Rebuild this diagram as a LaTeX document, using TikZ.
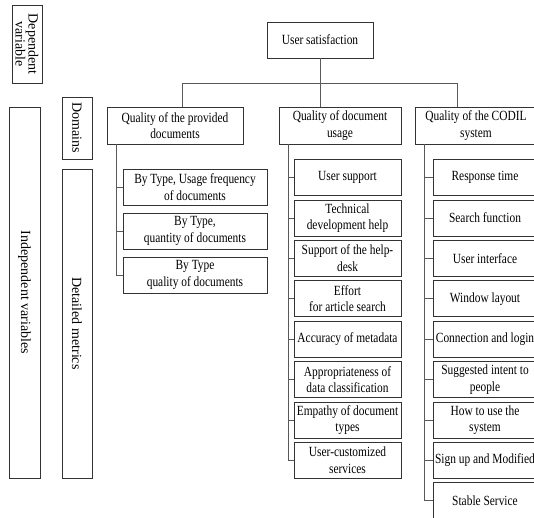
\documentclass[tikz,border=0pt]{standalone}
\usepackage{fontspec}
\setmainfont{Liberation Serif}[FakeStretch=0.815]
\newfontfamily\uprightserif{Liberation Serif}

\begin{document}
\begin{tikzpicture}[x=1pt, y=-1pt,
    box/.style={draw=black!80, line width=0.7pt, align=center, inner sep=1pt,
      font=\fontsize{14}{16.5}\selectfont},
    vbox/.style={box, rotate=-90, font=\uprightserif\fontsize{14}{13}\selectfont},
    link/.style={draw=black!65, line width=0.7pt}
  ]
  \useasboundingbox (0,0) rectangle (534,517);
  \clip (0,0) rectangle (534,517);

  % side labels
  \node[vbox, minimum width=78, minimum height=30] (dep) at (27,44) {Dependent\\variable};
  \node[vbox, minimum width=371, minimum height=31] (indep) at (24.5,292.5) {Independent variables};
  \node[vbox, minimum width=62, minimum height=30] (dom) at (77,128) {Domains};
  \node[vbox, minimum width=309, minimum height=30] (det) at (77,323.5) {Detailed metrics};

  % root and domains
  \node[box, minimum width=106, minimum height=36] (root) at (320,40) {User satisfaction};
  \node[box, minimum width=136, minimum height=37] (dom1) at (175,125.5) {Quality of the provided\\documents};
  \node[box, minimum width=122, minimum height=37] (dom2) at (340,125.5) {Quality of document\\usage};
  \node[box, minimum width=122, minimum height=37] (dom3) at (476,125.5) {Quality of the CODIL\\system};

  \coordinate (busL) at (182,83);
  \coordinate (busR) at (457,83);
  \draw[link] (root.south) -- (root.south |- busL);
  \draw[link] (busL) -- (busR);
  \draw[link] (busL) -- (busL |- dom1.north);
  \draw[link] (root.south |- busL) -- (root.south |- dom2.north);
  \draw[link] (busR) -- (busR |- dom3.north);

  % detailed metrics
  \coordinate (s1) at (116,144);
  \coordinate (s2) at (288,144);
  \coordinate (s3) at (424,144);

  \foreach \txt [count=\i] in {{By Type, Usage frequency\\of documents},
      {By Type,\\quantity of documents},
      {By Type\\quality of documents}} {
    \node[box, minimum width=144, minimum height=36] (m1-\i) at (195,{187+44*(\i-1)}) {\txt};
    \draw[link] (s1) |- (m1-\i.west);
  }

  \foreach \txt [count=\i] in {User support, {Technical\\development help},
      {Support of the help-\\desk}, {Effort\\for article search},
      Accuracy of metadata, {Appropriateness of\\data classification},
      {Empathy of document\\types}, {User-customized\\services}} {
    \node[box, minimum width=107, minimum height=36] (m2-\i) at (347.5,{177.5+40.4*(\i-1)}) {\txt};
    \draw[link] (s2) |- (m2-\i.west);
  }

  \foreach \txt [count=\i] in {Response time, Search function, User interface,
      Window layout, Connection and login, {Suggested intent to\\people},
      {How to use the\\system}, Sign up and Modified, Stable Service} {
    \node[box, minimum width=104, minimum height=36] (m3-\i) at (485,{177.5+40.4*(\i-1)}) {\txt};
    \draw[link] (s3) |- (m3-\i.west);
  }
\end{tikzpicture}
\end{document}
